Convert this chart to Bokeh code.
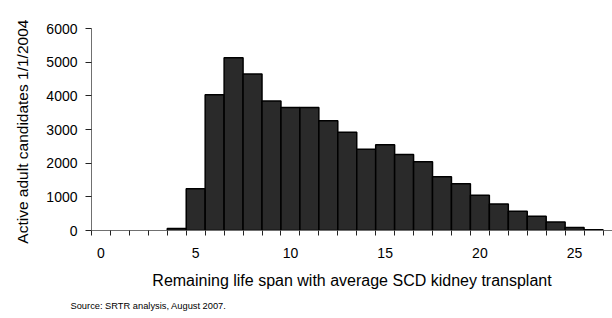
from bokeh.plotting import figure
from bokeh.models import Range1d, FixedTicker, Title, ColumnDataSource
from bokeh.embed import file_html
from bokeh.resources import INLINE

# Data: candidates per 1-year bin of remaining life span
bin_start = list(range(27))
counts = [0, 0, 0, 0, 60, 1240, 4030, 5130, 4650, 3850, 3650, 3650, 3260,
          2920, 2410, 2550, 2260, 2040, 1600, 1390, 1050, 790, 575, 425,
          250, 90, 20]
x_tick_labels = [0, 5, 10, 15, 20, 25]
y_tick_values = [0, 1000, 2000, 3000, 4000, 5000, 6000]

x_title = "Remaining life span with average SCD kidney transplant"
y_title = "Active adult candidates  1/1/2004"
source_note = "Source: SRTR analysis, August 2007."

FONT = "Liberation Sans"

keep = [i for i, c in enumerate(counts) if c > 0]
src = ColumnDataSource(data=dict(
    left=[bin_start[i] for i in keep],
    right=[bin_start[i] + 1 for i in keep],
    top=[counts[i] for i in keep],
))

p = figure(width=612, height=318, output_backend="svg", toolbar_location=None,
           x_range=Range1d(0, 27.5), y_range=Range1d(0, 6000),
           min_border_left=91, min_border_right=0, min_border_top=28,
           min_border_bottom=88)

p.quad(left="left", right="right", bottom=0, top="top", source=src,
       fill_color="#2a2a2a", line_color="#000000", line_width=1.5)

p.outline_line_color = None
p.xgrid.visible = False
p.ygrid.visible = False

# X axis: tick marks at bin edges (minor), labels at bin centres (major)
xa = p.xaxis[0]
xa.ticker = FixedTicker(ticks=[v + 0.5 for v in x_tick_labels],
                        minor_ticks=bin_start + [27])
xa.major_label_overrides = {v + 0.5: str(v) for v in x_tick_labels}
xa.major_tick_line_color = None
xa.minor_tick_line_color = "#222222"
xa.minor_tick_out = 5
xa.minor_tick_in = 0
xa.major_tick_out = 5
xa.axis_line_color = "#707070"
xa.major_label_text_font = FONT
xa.major_label_text_font_size = "14px"
xa.major_label_text_color = "#000000"
xa.major_label_standoff = 12
xa.axis_label = x_title
xa.axis_label_text_font = FONT
xa.axis_label_text_font_size = "16px"
xa.axis_label_text_font_style = "normal"
xa.axis_label_text_color = "#000000"
xa.axis_label_standoff = 11

ya = p.yaxis[0]
ya.ticker = FixedTicker(ticks=y_tick_values)
ya.minor_tick_line_color = None
ya.major_tick_out = 6
ya.major_tick_in = 0
ya.major_tick_line_color = "#222222"
ya.axis_line_color = "#707070"
ya.major_label_text_font = FONT
ya.major_label_text_font_size = "14px"
ya.major_label_text_color = "#000000"
ya.major_label_standoff = 8
ya.axis_label = y_title
ya.axis_label_text_font = FONT
ya.axis_label_text_font_size = "15.5px"
ya.axis_label_text_font_style = "normal"
ya.axis_label_text_color = "#000000"
ya.axis_label_standoff = 12

p.add_layout(Title(text=source_note, align="left", text_font=FONT,
                   text_font_size="9.3px", text_font_style="normal",
                   text_color="#000000", offset=-21, standoff=15), "below")

open("out.html", "w").write(file_html(p, INLINE))
